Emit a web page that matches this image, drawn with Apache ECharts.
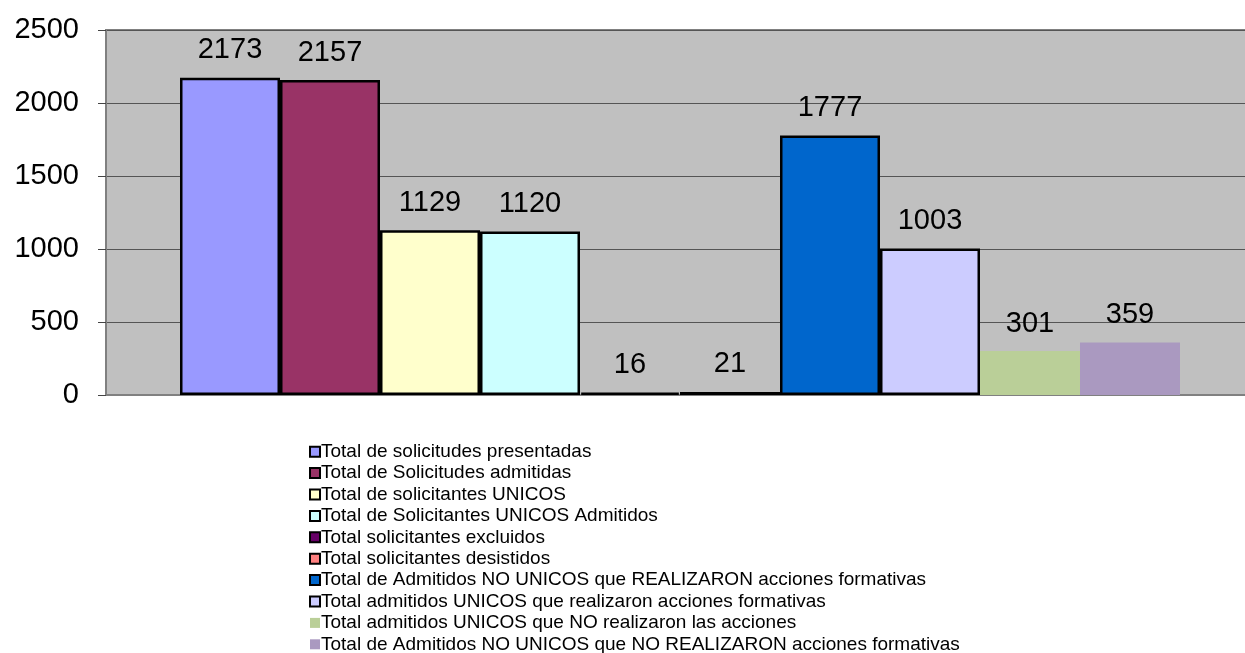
<!DOCTYPE html>
<html><head><meta charset="utf-8">
<script src="https://cdn.jsdelivr.net/npm/echarts@6/dist/echarts.min.js"></script>
<style>html,body{margin:0;padding:0;background:#fff}#c{width:1245px;height:653px}</style>
</head><body><div id="c"></div>
<script>
const seriesNames = [
  "Total de solicitudes presentadas",
  "Total de Solicitudes admitidas",
  "Total de solicitantes UNICOS",
  "Total de Solicitantes UNICOS Admitidos",
  "Total solicitantes excluidos",
  "Total solicitantes desistidos",
  "Total de Admitidos NO UNICOS que REALIZARON acciones formativas",
  "Total admitidos UNICOS que realizaron acciones formativas",
  "Total admitidos UNICOS que NO realizaron las acciones",
  "Total de Admitidos NO UNICOS que NO REALIZARON acciones formativas"
];
const values = [2173, 2157, 1129, 1120, 16, 21, 1777, 1003, 301, 359];
const colors = ["#9999FF","#993366","#FFFFCC","#CCFFFF","#660066","#FF8080","#0066CC","#CCCCFF","#BACF98","#AA99C0"];
const bordered = [true,true,true,true,true,true,true,true,false,false];
const categories = [""];
const yTicks = {min: 0, max: 2500, interval: 500};

const chart = echarts.init(document.getElementById('c'));
const font = "'Liberation Sans', Arial, sans-serif";
chart.setOption({
  animation: false,
  textStyle: {fontFamily: font},
  grid: {left: 106, right: -9, top: 30, bottom: 258, outerBoundsMode: 'none', show: true, backgroundColor: '#C0C0C0', borderColor: '#808080', borderWidth: 2},
  xAxis: {type: 'category', data: categories,
    axisLine: {show: true, lineStyle: {color: '#808080', width: 2}},
    axisTick: {show: false}, axisLabel: {show: false}},
  yAxis: {type: 'value', min: yTicks.min, max: yTicks.max, interval: yTicks.interval,
    axisLine: {show: true, lineStyle: {color: '#808080', width: 1}},
    axisTick: {show: true, length: 8, lineStyle: {color: '#444'}},
    axisLabel: {fontSize: 29, color: '#000', margin: 27, fontFamily: font, formatter: v => String(v)},
    splitLine: {show: true, lineStyle: {color: '#555', width: 1}}},
  legend: {orient: 'vertical', left: 309, top: 441, height: 300, itemWidth: 10, itemHeight: 10, itemGap: 0, padding: 0,
    icon: 'rect', selectedMode: false,
    textStyle: {fontSize: 19, lineHeight: 21.4, color: '#000', fontFamily: font, padding: [0,0,0,-4]},
    data: seriesNames.map((n, i) => ({name: n, itemStyle: {borderColor: bordered[i] ? '#000' : colors[i], borderWidth: bordered[i] ? 2 : 0}}))},
  series: seriesNames.map((n, i) => ({
    name: n, type: 'bar', barWidth: 100, barGap: '0%',
    data: [values[i]],
    itemStyle: {color: colors[i], borderColor: bordered[i] ? '#000' : colors[i], borderWidth: bordered[i] ? 2.5 : 0},
    label: {show: true, position: 'top', distance: 13, fontSize: 29, color: '#000', fontFamily: font}
  }))
});
</script></body></html>
